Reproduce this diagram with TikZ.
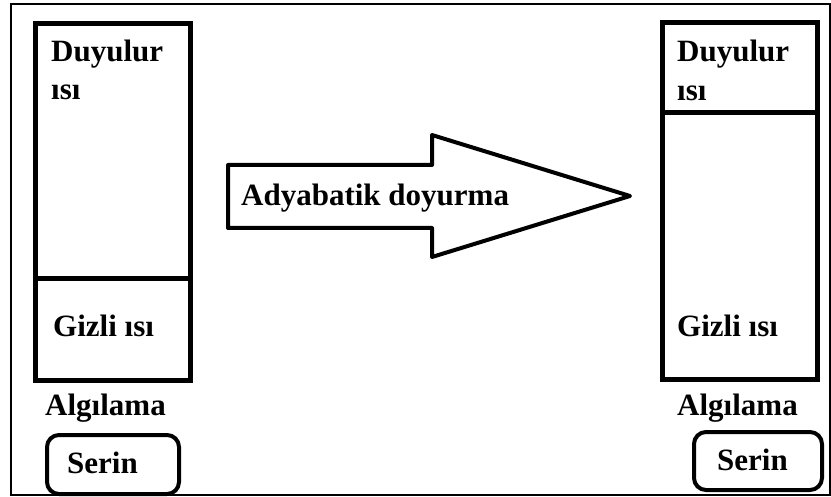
\documentclass[tikz,border=0pt]{standalone}
\usepackage{fontspec}
\setmainfont{Liberation Serif}
\begin{document}
\begin{tikzpicture}[x=1pt,y=-1pt,
  box/.style={draw,line width=5pt,anchor=north west,inner sep=0pt},
  lbl/.style={font=\fontsize{31}{36}\selectfont\bfseries,anchor=base west,inner sep=0pt},
  pill/.style={draw,line width=4pt,rounded corners=12pt,anchor=north west,inner sep=0pt}]
\useasboundingbox (0,0) rectangle (831,497);
\node[draw,line width=2pt,anchor=north west,minimum width=819pt,minimum height=491pt,inner sep=0pt] (frame) at (10,3) {};
% left column
\node[box,minimum width=155pt,minimum height=255pt] (ltop) at (33,21) {};
\node[box,minimum width=155pt,minimum height=102pt] (lbot) at (33,276) {};
\node[lbl] (lduy) at (51,62) {Duyulur};
\node[lbl] (lisi) at (51,100) {ısı};
\node[lbl] (lgiz) at (53,337) {Gizli ısı};
\node[lbl] (lalg) at (45,415) {Algılama};
\node[pill,minimum width=132pt,minimum height=59pt] (lser) at (45,433) {};
\node[lbl] (lsert) at (67,473) {Serin};
% arrow
\coordinate (a1) at (228,165);
\coordinate (a2) at (432,165);
\coordinate (a3) at (432,135);
\coordinate (tip) at (630,196);
\coordinate (a5) at (432,257);
\coordinate (a6) at (432,228);
\coordinate (a7) at (228,228);
\draw[line width=4pt,line join=round] (a1) -- (a2) -- (a3) -- (tip) -- (a5) -- (a6) -- (a7) -- cycle;
\node[lbl] (adya) at (241,206) {Adyabatik doyurma};
% right column
\node[box,minimum width=155pt,minimum height=90pt] (rtop) at (660,20) {};
\node[box,minimum width=155pt,minimum height=267pt] (rbot) at (660,110) {};
\node[lbl] (rduy) at (677,62) {Duyulur};
\node[lbl] (risi) at (677,101) {ısı};
\node[lbl] (rgiz) at (677,337) {Gizli ısı};
\node[lbl] (ralg) at (677,415) {Algılama};
\node[pill,minimum width=128pt,minimum height=58pt] (rser) at (692,430) {};
\node[lbl] (rsert) at (717,470) {Serin};
\end{tikzpicture}
\end{document}
